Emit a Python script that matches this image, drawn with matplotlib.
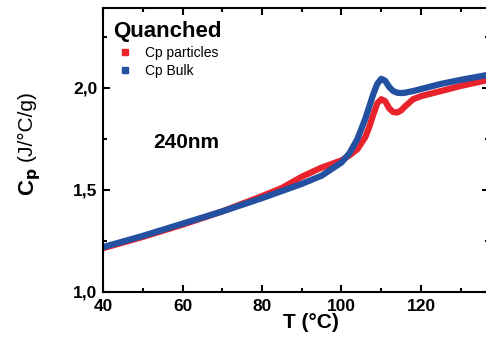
import numpy as np
import matplotlib.pyplot as plt
from matplotlib.lines import Line2D
from matplotlib.ticker import MultipleLocator, FuncFormatter

plt.rcParams['font.family'] = ['Liberation Sans', 'DejaVu Sans']

# temperatura (°C)
T = [40, 50, 60, 70, 80, 85, 90, 95, 100, 102, 104, 106, 107, 108, 109, 110, 111, 112,
     113, 114, 115, 116, 118, 120, 125, 130, 137]
# Cp bulk (J/°C/g)
cp_bulk = [1.22, 1.275, 1.335, 1.395, 1.46, 1.495, 1.53, 1.57, 1.635, 1.68, 1.75, 1.85, 1.91,
           1.97, 2.02, 2.045, 2.035, 2.005, 1.985, 1.977, 1.975, 1.977, 1.985, 1.995, 2.02,
           2.04, 2.065]
# Cp particulas (J/°C/g)
cp_part = [1.215, 1.27, 1.33, 1.395, 1.47, 1.51, 1.565, 1.61, 1.645, 1.67, 1.70, 1.76, 1.81,
           1.87, 1.925, 1.945, 1.935, 1.90, 1.882, 1.88, 1.89, 1.91, 1.945, 1.96, 1.985,
           2.01, 2.04]

red = '#e8232b'
blue = '#2350a0'

fig = plt.figure(figsize=(4.86, 3.45), dpi=100)
ax = fig.add_axes([103/486, 53/345, 386/486, 284/345])

ax.plot(T, cp_part, color=red, lw=4.5, solid_capstyle='butt')
ax.plot(T, cp_bulk, color=blue, lw=4.5, solid_capstyle='butt')

ax.set_xlim(40, 40 + 386/3.975)
ax.set_ylim(1.0, 1.0 + 284/204)
ax.xaxis.set_major_locator(MultipleLocator(20))
ax.xaxis.set_minor_locator(MultipleLocator(10))
ax.yaxis.set_major_locator(MultipleLocator(0.5))
ax.yaxis.set_minor_locator(MultipleLocator(0.25))
ax.yaxis.set_major_formatter(FuncFormatter(lambda v, p: ('%.1f' % v).replace('.', ',')))
ax.tick_params(which='both', direction='in', top=True, right=True, width=1.5)
ax.tick_params(which='major', length=5, labelsize=12.5)
ax.tick_params(axis='x', which='major', pad=5)
ax.tick_params(axis='y', which='major', pad=4)
ax.tick_params(which='minor', length=3)
for lab in ax.get_xticklabels() + ax.get_yticklabels():
    lab.set_fontweight('bold')
for s in ax.spines.values():
    s.set_linewidth(1.5)

ax.set_xlabel('T (°C)', fontsize=15, fontweight='bold')
ax.xaxis.set_label_coords((311 - 103) / 386, -(322 - 292) / 284)
ax.xaxis.label.set_va('center')

fig.text(30/486, 1 - 196/345, 'C$_\\mathbf{p}$', rotation=90, fontsize=16, fontweight='bold',
         ha='center', va='bottom')
fig.text(26/486, 1 - 161/345, '(J/°C/g)', rotation=90, fontsize=15,
         ha='center', va='bottom')

handles = [Line2D([], [], ls='none', marker='s', ms=4, color=red),
           Line2D([], [], ls='none', marker='s', ms=4, color=blue)]
leg = ax.legend(handles, ['Cp particles', 'Cp Bulk'], loc='upper left', title='Quanched',
                frameon=False, fontsize=10, handlelength=1.7, handletextpad=0.6,
                borderaxespad=0, borderpad=0.4, labelspacing=0.3,
                bbox_to_anchor=(0.0114, 0.975))
leg.get_title().set_fontsize(16)
leg.get_title().set_fontweight('bold')
leg._legend_box.align = 'left'

ax.text(61, 1.735, '240nm', fontsize=15, fontweight='bold', ha='center', va='center')

fig.savefig('out.png', dpi=100)
